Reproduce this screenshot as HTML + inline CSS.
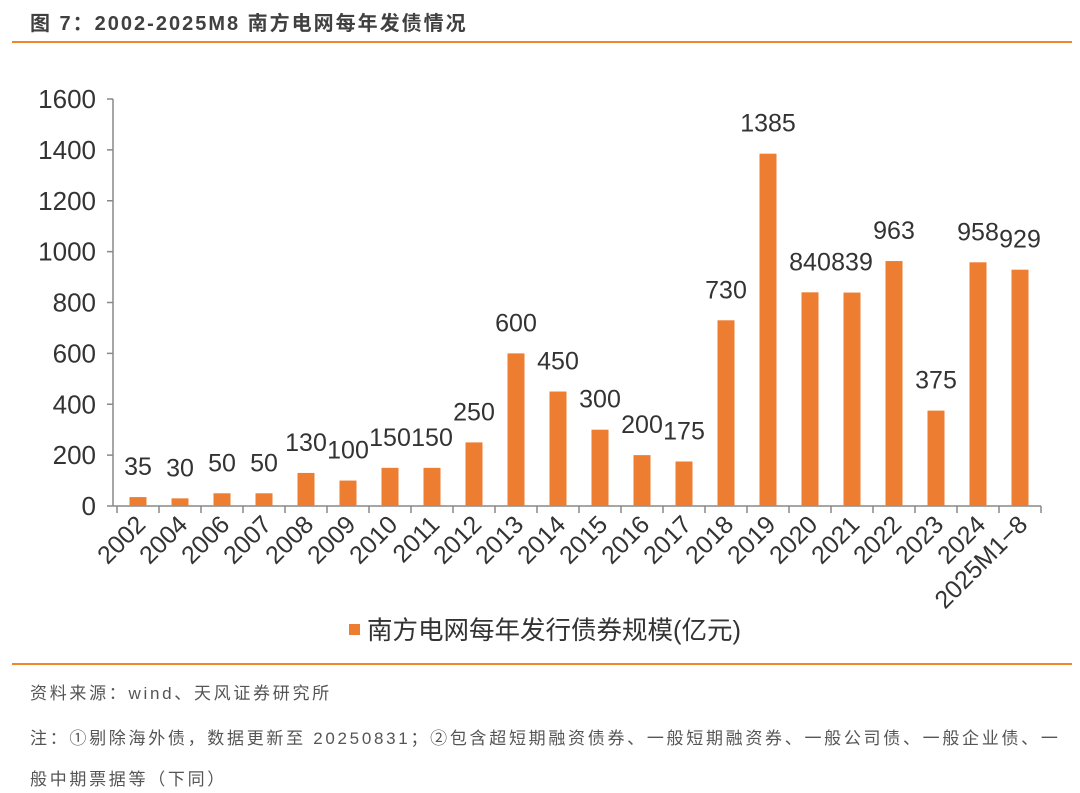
<!DOCTYPE html>
<html><head><meta charset="utf-8"><style>
body{margin:0;background:#fff;width:1080px;height:793px;overflow:hidden;font-family:"Liberation Sans","Noto Sans CJK SC",sans-serif;}
.t{position:absolute;left:30px;top:7px;font-size:20px;font-weight:bold;color:#404040;letter-spacing:2px;}
.src{position:absolute;left:30px;font-size:17px;color:#555;letter-spacing:2.7px;white-space:nowrap;}
</style></head><body>
<div class="t">图 7：2002-2025M8 南方电网每年发债情况</div>
<div style="position:absolute;left:12px;top:41px;width:1060px;height:2px;background:#f0882a"></div>
<svg id="c" width="1080" height="660" style="position:absolute;left:0;top:0"></svg>
<div style="position:absolute;left:12px;top:663px;width:1060px;height:1.5px;background:#f0882a"></div>
<div class="src" style="top:679px">资料来源：wind、天风证券研究所</div>
<div class="src" style="top:724px">注：①剔除海外债，数据更新至 20250831；②包含超短期融资债券、一般短期融资券、一般公司债、一般企业债、一</div>
<div class="src" style="top:765px">般中期票据等（下同）</div>
<script>
const categories=["2002","2004","2006","2007","2008","2009","2010","2011","2012","2013","2014","2015","2016","2017","2018","2019","2020","2021","2022","2023","2024","2025M1−8"];
const values=[35,30,50,50,130,100,150,150,250,600,450,300,200,175,730,1385,840,839,963,375,958,929];
const yTicks=[0,200,400,600,800,1000,1200,1400,1600];
const svg=document.getElementById('c');const NS='http://www.w3.org/2000/svg';
const x0=117,band=42,y0=506,yTop=99,yMax=1600;
const y=v=>y0-(v/yMax)*(y0-yTop);
const xc=i=>x0+band*(i+0.5);
function el(t,a,txt){const e=document.createElementNS(NS,t);for(const k in a)e.setAttribute(k,a[k]);if(txt!==undefined)e.textContent=txt;svg.appendChild(e);return e;}
let e=el('line',{x1:113,y1:y(0),x2:113,y2:y(1600),stroke:'#888','stroke-width':1.5});


e=el('line',{x1:113,y1:y0,x2:x0+band*categories.length,y2:y0,stroke:'#888','stroke-width':1.5});


yTicks.forEach(v=>{
 el('line',{x1:107,y1:y(v),x2:113,y2:y(v),stroke:'#888','stroke-width':1.5});
 const t=el('text',{x:96,y:y(v)+9,'text-anchor':'end','font-size':26,fill:'#333'},String(v));
 
 
});
for(let i=0;i<=categories.length;i++)el('line',{x1:x0+band*i,y1:y0,x2:x0+band*i,y2:y0+7,stroke:'#888','stroke-width':1.5});
categories.forEach((c,i)=>{
 const v=values[i];
 const b=el('rect',{x:xc(i)-8.5,y:y(v),width:17,height:y0-y(v),fill:'#ed7d31'});
 
 
 const l=el('text',{x:xc(i),y:y(v)-22,'text-anchor':'middle','font-size':25,fill:'#333'},String(v));
 
 
 const tx=xc(i)+9,ty=y0+20;
 const xl=el('text',{x:tx,y:ty,'text-anchor':'end','font-size':25,fill:'#333',transform:`rotate(-45 ${tx} ${ty})`},c);
 
 
});
e=el('rect',{x:349,y:624,width:11,height:11,fill:'#ed7d31'});


e=el('text',{x:367,y:639,'font-size':25.5,fill:'#333'},'南方电网每年发行债券规模(亿元)');


</script>
</body></html>
